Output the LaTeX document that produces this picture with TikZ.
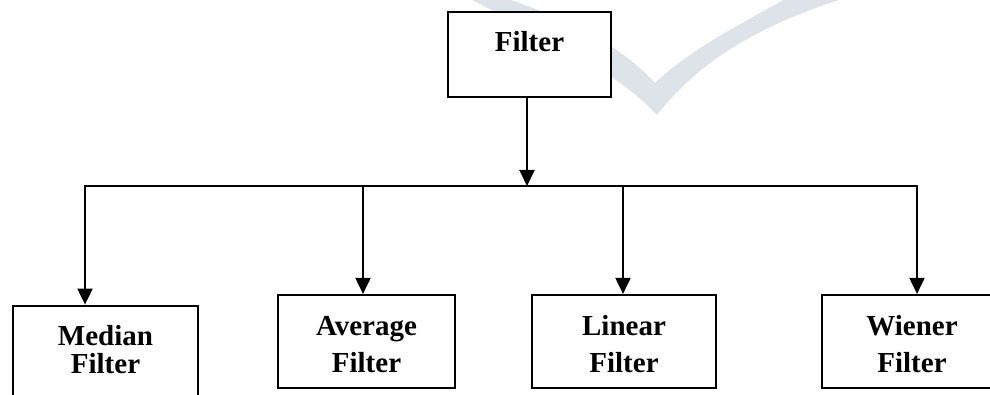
\documentclass[tikz,border=0pt]{standalone}
\usepackage{fontspec}
\setmainfont{Liberation Serif}
\usetikzlibrary{arrows.meta}
\definecolor{wm}{RGB}{221,227,232}
\newcommand\twoline[3]{{\fontsize{29}{#1}\selectfont\begin{tabular}[t]{@{}c@{}}#2\\#3\end{tabular}}}
\begin{document}
\begin{tikzpicture}[x=1pt,y=-1pt,
  box/.style={draw=black, line width=2.2pt, fill=white, rectangle, inner sep=0pt,
    font=\fontsize{29}{37}\selectfont\bfseries},
  conn/.style={line width=2pt, line join=miter},
  arr/.style={conn, -{Triangle[length=16pt,width=15pt]}}]
\useasboundingbox (0,0) rectangle (990,395);
\clip (0,0) rectangle (990,395);
% watermark
\fill[wm] (468,-2) .. controls (560,45) and (620,75) .. (657,115)
  .. controls (700,60) and (760,25) .. (845,-2) -- (787,-2)
  .. controls (730,30) and (690,50) .. (655,83)
  .. controls (620,45) and (570,20) .. (505,-2) -- cycle;
% boxes
\node[box, minimum width=163pt, minimum height=85pt, text height=20pt, text depth=25pt]
  (filter) at (529.5,54.5) {Filter};
\node[box, minimum width=185pt, minimum height=95.3pt, text height=20pt, text depth=36.7pt]
  (median) at (105.5,353.35) {\twoline{28}{Median}{Filter}};
\node[box, minimum width=177pt, minimum height=93pt, text height=20pt, text depth=33pt]
  (avg) at (366.5,341.5) {\twoline{37}{Average}{Filter}};
\node[box, minimum width=184pt, minimum height=93pt, text height=20pt, text depth=33pt]
  (lin) at (624,341.5) {\twoline{37}{Linear}{Filter}};
\node[box, minimum width=180pt, minimum height=93pt, text height=20pt, text depth=33pt]
  (wie) at (912,341.5) {\twoline{37}{Wiener}{Filter}};
% connectors
\coordinate (busmid) at (527,186);
\coordinate (b1) at (85,186);
\coordinate (b2) at (363,186);
\coordinate (b3) at (623,186);
\coordinate (b4) at (917,186);
\draw[arr] (filter.south -| busmid) -- (busmid);
\draw[arr] (b2) -- (b1) -- (b1 |- median.north);
\draw[arr] (b3) -- (b4) -- (b4 |- wie.north);
\draw[conn] (b2) -- (b3);
\draw[arr] (b2) -- (b2 |- avg.north);
\draw[arr] (b3) -- (b3 |- lin.north);
\end{tikzpicture}
\end{document}
